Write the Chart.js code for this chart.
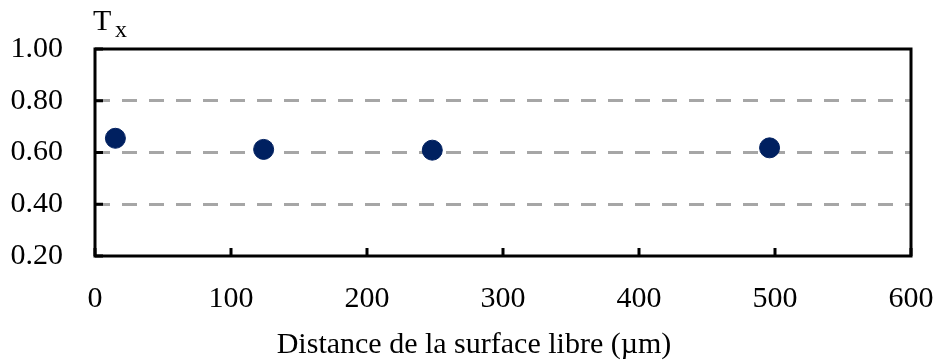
<!DOCTYPE html>
<html>
<head>
<meta charset="utf-8">
<script src="https://cdn.jsdelivr.net/npm/chart.js@4"></script>
<style>
  html, body { margin: 0; padding: 0; background: #fff; }
  #wrap { width: 938px; height: 362px; }
</style>
</head>
<body>
<div id="wrap"><canvas id="chart" width="938" height="362"></canvas></div>
<script>
// distance from free surface (µm) and Tx values
const distances = [15, 124, 248, 496];
const txValues = [0.655, 0.612, 0.609, 0.618];
const yTicks = [0.2, 0.4, 0.6, 0.8, 1.0];
const xTicks = [0, 100, 200, 300, 400, 500, 600];
const xTitle = 'Distance de la surface libre (µm)';

const serif = '"Liberation Serif", serif';

// frame, inward tick marks, Tx label and x-axis title
const framePlugin = {
    id: 'frame',
    afterDraw(chart) {
        const ctx = chart.ctx;
        const a = chart.chartArea;
        const xs = chart.scales.x, ys = chart.scales.y;
        ctx.save();
        ctx.strokeStyle = '#000';
        ctx.lineWidth = 3;
        ctx.strokeRect(a.left, a.top, a.right - a.left, a.bottom - a.top);
        ctx.beginPath();
        yTicks.forEach(v => {
            const y = ys.getPixelForValue(v);
            ctx.moveTo(a.left, y);
            ctx.lineTo(a.left + 8, y);
        });
        xTicks.forEach(v => {
            const x = xs.getPixelForValue(v);
            ctx.moveTo(x, a.bottom);
            ctx.lineTo(x, a.bottom - 8);
        });
        ctx.stroke();

        ctx.fillStyle = '#000';
        ctx.textBaseline = 'alphabetic';
        ctx.font = '30px ' + serif;
        ctx.fillText('T', 93, 30);
        ctx.font = '24px ' + serif;
        ctx.fillText('x', 115, 37);

        // axis title sits slightly left of the plot centre in the original
        ctx.font = '30px ' + serif;
        ctx.textAlign = 'center';
        ctx.textBaseline = 'middle';
        ctx.fillText(xTitle, 474, 345);
        ctx.restore();
    }
};

new Chart(document.getElementById('chart'), {
    type: 'scatter',
    data: {
        datasets: [{
            data: distances.map((d, i) => ({ x: d, y: txValues[i] })),
            backgroundColor: '#002060',
            borderColor: '#002060',
            pointRadius: 10,
            pointHoverRadius: 10
        }]
    },
    options: {
        responsive: false,
        animation: false,
        devicePixelRatio: 1,
        layout: { padding: { top: 49, right: 27, left: 0, bottom: 0 } },
        plugins: { legend: { display: false }, tooltip: { enabled: false } },
        scales: {
            x: {
                min: 0, max: 600,
                afterFit(scale) {
                    scale.height = 106;
                    scale.paddingLeft = 0;
                    scale.paddingRight = 0;
                },
                afterBuildTicks(scale) { scale.ticks = xTicks.map(v => ({ value: v })); },
                grid: { display: false, drawTicks: false },
                border: { display: false },
                ticks: { color: '#000', padding: 25, font: { family: serif, size: 30 }, maxRotation: 0 }
            },
            y: {
                min: 0.2, max: 1.0,
                afterFit(scale) {
                    scale.width = 95;
                    scale.paddingTop = 0;
                    scale.paddingBottom = 0;
                },
                afterBuildTicks(scale) { scale.ticks = yTicks.map(v => ({ value: v })); },
                grid: {
                    drawTicks: false,
                    lineWidth: 3,
                    color: c => (c.tick && (c.tick.value <= 0.2001 || c.tick.value >= 0.9999)) ? 'rgba(0,0,0,0)' : '#a6a6a6'
                },
                border: { display: false, dash: [15, 12] },
                ticks: {
                    color: '#000', padding: 32,
                    font: { family: serif, size: 30 },
                    callback: v => v.toFixed(2)
                }
            }
        }
    },
    plugins: [framePlugin]
});
</script>
</body>
</html>
